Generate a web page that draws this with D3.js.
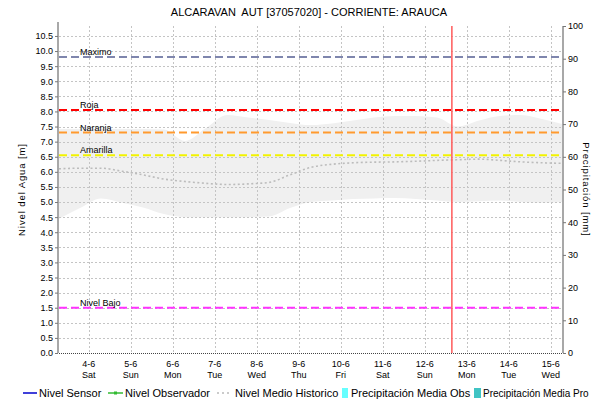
<!DOCTYPE html>
<html>
<head>
<meta charset="utf-8">
<script src="https://cdn.jsdelivr.net/npm/d3@7"></script>
<style>
  body { margin: 0; background: #fff; }
  svg text { font-family: "Liberation Sans", Arial, sans-serif; fill: #000; }
</style>
</head>
<body>
<svg id="chart"></svg>
<script>
const size = { width: 597, height: 404 };
const margin = { top: 26, right: 34, bottom: 51, left: 59 };

const title = "ALCARAVAN  AUT [37057020] - CORRIENTE: ARAUCA";
const timeRange = ["2022-06-03T07:00", "2022-06-15T07:00"];
const nowMark = "2022-06-12T15:30";

const dayTicks = ["2022-06-04", "2022-06-05", "2022-06-06", "2022-06-07", "2022-06-08", "2022-06-09",
  "2022-06-10", "2022-06-11", "2022-06-12", "2022-06-13", "2022-06-14", "2022-06-15"];
const dayNames = ["Sat", "Sun", "Mon", "Tue", "Wed", "Thu", "Fri", "Sat", "Sun", "Mon", "Tue", "Wed"];

const levelTicks = [0, 0.5, 1, 1.5, 2, 2.5, 3, 3.5, 4, 4.5, 5, 5.5, 6, 6.5, 7, 7.5, 8, 8.5, 9, 9.5, 10, 10.5];
const rainTicks = [0, 10, 20, 30, 40, 50, 60, 70, 80, 90, 100];

// historical record, every 12 h
const histTimes = ["2022-06-03T07:00", "2022-06-03T19:00", "2022-06-04T07:00", "2022-06-04T19:00",
  "2022-06-05T07:00", "2022-06-05T19:00", "2022-06-06T07:00", "2022-06-06T19:00",
  "2022-06-07T07:00", "2022-06-07T19:00", "2022-06-08T07:00", "2022-06-08T19:00",
  "2022-06-09T07:00", "2022-06-09T19:00", "2022-06-10T07:00", "2022-06-10T19:00",
  "2022-06-11T07:00", "2022-06-11T19:00", "2022-06-12T07:00", "2022-06-12T19:00",
  "2022-06-13T07:00", "2022-06-13T19:00", "2022-06-14T07:00", "2022-06-14T19:00",
  "2022-06-15T07:00"];
const histMax = [7.42, 7.42, 7.42, 7.42, 7.42, 7.4, 7.02, 7.45, 7.88, 7.8, 7.72, 7.62,
  7.55, 7.6, 7.7, 7.8, 7.85, 7.85, 7.8, 7.5, 7.7, 7.85, 7.88, 7.75, 7.58];
const histMin = [4.45, 4.8, 5.12, 4.98, 4.82, 4.6, 4.5, 4.5, 4.5, 4.5, 4.52, 4.8,
  5.0, 5.05, 5.1, 5.12, 5.13, 5.1, 5.05, 5.0, 5.03, 5.05, 5.0, 4.98, 5.0];
const histMean = [6.1, 6.12, 6.12, 6.02, 5.9, 5.76, 5.68, 5.62, 5.58, 5.6, 5.65, 5.9,
  6.15, 6.25, 6.3, 6.32, 6.33, 6.35, 6.38, 6.4, 6.42, 6.38, 6.33, 6.3, 6.28];

// alert thresholds [m]
const thresholdNames = ["Maximo", "Roja", "Naranja", "Amarilla", "Nivel Bajo"];
const thresholdValues = [9.8, 8.05, 7.3, 6.55, 1.5];
const thresholdColors = ["#7f86ad", "#ff0000", "#ff9a2e", "#f2f200", "#ff33ff"];

const legendNames = ["Nivel Sensor", "Nivel Observador", "Nivel Medio Historico",
  "Precipitación Media Obs", "Precipitación Media Pro"];

const parse = d3.isoParse;

const svg = d3.select("#chart").attr("width", size.width).attr("height", size.height);

const x = d3.scaleTime()
  .domain(timeRange.map(parse))
  .range([margin.left, size.width - margin.right]);
const y = d3.scaleLinear().domain([0, 10.83]).range([size.height - margin.bottom, margin.top]);
const yR = d3.scaleLinear().domain([0, 100]).range([size.height - margin.bottom, margin.top]);

const x0 = margin.left, x1 = size.width - margin.right;
const yb = size.height - margin.bottom;

// historical band
const hist = histTimes.map((t, i) => ({ date: parse(t), hi: histMax[i], lo: histMin[i], mean: histMean[i] }));
svg.append("path")
  .datum(hist)
  .attr("fill", "#f0f0f0")
  .attr("d", d3.area().curve(d3.curveMonotoneX).x(d => x(d.date)).y0(d => y(d.lo)).y1(d => y(d.hi)));

// grid
const grid = svg.append("g").attr("stroke", "#c4c4c4").attr("stroke-width", 1).attr("stroke-dasharray", "2,2");
levelTicks.slice(1).forEach(v => {
  grid.append("line").attr("x1", x0).attr("x2", x1).attr("y1", Math.round(y(v)) + 0.5).attr("y2", Math.round(y(v)) + 0.5);
});
dayTicks.forEach(d => {
  const xv = Math.round(x(parse(d))) + 0.5;
  grid.append("line").attr("x1", xv).attr("x2", xv).attr("y1", margin.top).attr("y2", yb);
});

// mean line
svg.append("path")
  .datum(hist)
  .attr("fill", "none")
  .attr("stroke", "#bcbcbc")
  .attr("stroke-width", 1.6)
  .attr("stroke-dasharray", "2,2.5")
  .attr("d", d3.line().curve(d3.curveMonotoneX).x(d => x(d.date)).y(d => y(d.mean)));

// thresholds
thresholdValues.forEach((v, i) => {
  svg.append("line")
    .attr("x1", x0).attr("x2", x1)
    .attr("y1", y(v)).attr("y2", y(v))
    .attr("stroke", thresholdColors[i])
    .attr("stroke-width", 2)
    .attr("stroke-dasharray", "8,4");
  svg.append("text")
    .text(thresholdNames[i])
    .attr("x", 80)
    .attr("y", y(v) - 2)
    .attr("font-size", 9);
});

// current time marker
svg.append("line")
  .attr("x1", x(parse(nowMark))).attr("x2", x(parse(nowMark)))
  .attr("y1", margin.top).attr("y2", yb)
  .attr("stroke", "#ff5a5a").attr("stroke-width", 1.5);

// left axis
const left = svg.append("g")
  .attr("transform", `translate(${x0 - 1},0)`)
  .call(d3.axisLeft(y).tickValues(levelTicks).tickFormat(d3.format(".1f")).tickSize(3).tickPadding(2));
left.select(".domain").attr("stroke", "#a8a8a8").attr("stroke-width", 2).attr("d", `M0,${margin.top - 4}V${yb}`);
left.selectAll(".tick line").attr("stroke", "#777");
left.selectAll("text").attr("font-size", 9).attr("font-family", "Liberation Sans, Arial, sans-serif");

// right axis
const right = svg.append("g")
  .attr("transform", `translate(${x1},0)`)
  .call(d3.axisRight(yR).tickValues(rainTicks).tickSize(3).tickPadding(2));
right.select(".domain").attr("stroke", "#a8a8a8").attr("stroke-width", 2).attr("d", `M0,${margin.top}V${yb}`);
right.selectAll(".tick line").attr("stroke", "#777");
right.selectAll("text").attr("font-size", 9).attr("font-family", "Liberation Sans, Arial, sans-serif");

// bottom axis
svg.append("line")
  .attr("x1", x0).attr("x2", x1).attr("y1", yb + 0.5).attr("y2", yb + 0.5)
  .attr("stroke", "#444").attr("stroke-width", 1.2).attr("stroke-dasharray", "1,1");

dayTicks.forEach((d, i) => {
  const dt = parse(d);
  const xv = x(dt);
  svg.append("text").text(d3.timeFormat("%-d-%-m")(dt))
    .attr("x", xv).attr("y", yb + 14).attr("text-anchor", "middle").attr("font-size", 9);
  svg.append("text").text(dayNames[i])
    .attr("x", xv).attr("y", yb + 25).attr("text-anchor", "middle").attr("font-size", 9);
});

// title and axis titles
svg.append("text").text(title)
  .attr("x", 309).attr("y", 16).attr("text-anchor", "middle").attr("font-size", 11)
  .style("white-space", "pre");

svg.append("text").text("Nivel del Agua [m]")
  .attr("transform", `translate(25,${(margin.top + yb) / 2}) rotate(-90)`)
  .attr("text-anchor", "middle").attr("font-size", 9.5).attr("letter-spacing", 0.9);

svg.append("text").text("Precipitación [mm]")
  .attr("transform", `translate(583,${(margin.top + yb) / 2}) rotate(90)`)
  .attr("text-anchor", "middle").attr("font-size", 9.5).attr("letter-spacing", 0.9);

// legend
const ly = 397;
const legend = svg.append("g").attr("font-size", 11);
legend.append("line").attr("x1", 23).attr("x2", 37).attr("y1", ly - 4).attr("y2", ly - 4)
  .attr("stroke", "#0000cc").attr("stroke-width", 1.5);
legend.append("text").text(legendNames[0]).attr("x", 39).attr("y", ly);

legend.append("line").attr("x1", 108).attr("x2", 123).attr("y1", ly - 4).attr("y2", ly - 4)
  .attr("stroke", "#33bb33").attr("stroke-width", 1.5);
legend.append("rect").attr("x", 114).attr("y", ly - 5.5).attr("width", 3).attr("height", 3).attr("fill", "#33bb33");
legend.append("text").text(legendNames[1]).attr("x", 125).attr("y", ly);

legend.append("line").attr("x1", 217).attr("x2", 231).attr("y1", ly - 4).attr("y2", ly - 4)
  .attr("stroke", "#bbbbbb").attr("stroke-width", 1.5).attr("stroke-dasharray", "2,3");
legend.append("text").text(legendNames[2]).attr("x", 235).attr("y", ly);

legend.append("rect").attr("x", 342).attr("y", ly - 9).attr("width", 6).attr("height", 10).attr("fill", "#66ffff");
legend.append("text").text(legendNames[3]).attr("x", 351).attr("y", ly);

legend.append("rect").attr("x", 474).attr("y", ly - 9).attr("width", 7).attr("height", 10).attr("fill", "#40c4c4");
legend.append("text").text(legendNames[4]).attr("x", 483).attr("y", ly).attr("font-size", 10);
</script>
</body>
</html>
